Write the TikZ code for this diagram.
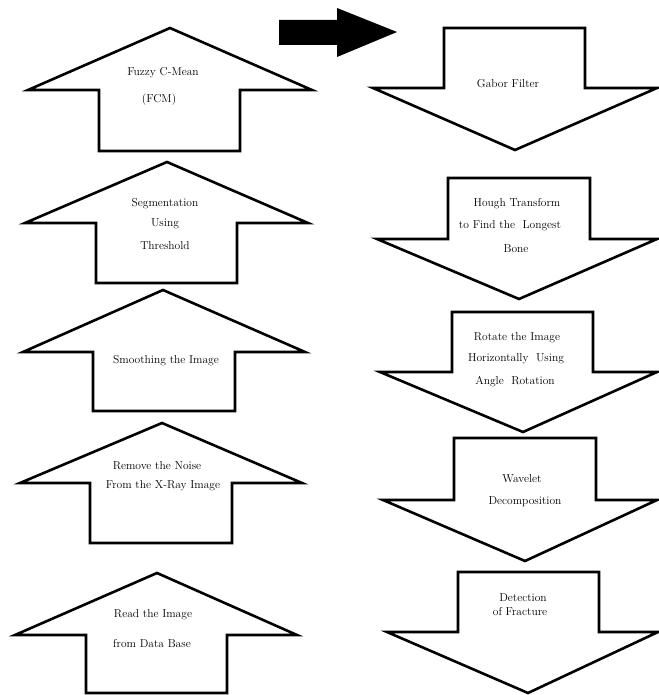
\documentclass[tikz,border=0pt]{standalone}
\begin{document}
\begin{tikzpicture}[x=1pt,y=-1pt,
  blockarrow/.style={draw=black,line width=2.6pt,fill=white,line join=miter},
  lbl/.style={font=\fontsize{11.5}{13}\selectfont,inner sep=0pt,anchor=center}]
\useasboundingbox (0,0) rectangle (658,695);

% ---- left column: upward block arrows ----
\draw[blockarrow] (170,28) -- (312,90) -- (240,90) -- (240,151) -- (99,151) -- (99,90) -- (28,90) -- cycle;
\draw[blockarrow] (167,162) -- (308,223) -- (237,223) -- (237,283) -- (96,283) -- (96,223) -- (25,223) -- cycle;
\draw[blockarrow] (163,290) -- (305,352) -- (235,352) -- (235,411) -- (93,411) -- (93,352) -- (23,352) -- cycle;
\draw[blockarrow] (162,423) -- (302,483) -- (232,483) -- (232,543) -- (90,543) -- (90,483) -- (20,483) -- cycle;
\draw[blockarrow] (157,573) -- (297,635) -- (227,635) -- (227,693) -- (86,693) -- (86,635) -- (15,635) -- cycle;

% ---- right column: downward block arrows ----
\draw[blockarrow] (444,28) -- (585,28) -- (585,88) -- (657,88) -- (515,150) -- (373,88) -- (444,88) -- cycle;
\draw[blockarrow] (448,178) -- (590,178) -- (590,239) -- (657,239) -- (519,299) -- (377,239) -- (448,239) -- cycle;
\draw[blockarrow] (452,312) -- (593,312) -- (593,372) -- (657,372) -- (523,432) -- (380,372) -- (452,372) -- cycle;
\draw[blockarrow] (454,438) -- (596,438) -- (596,500) -- (657,500) -- (525,561) -- (383,500) -- (454,500) -- cycle;
\draw[blockarrow] (458,572) -- (599,572) -- (599,632) -- (658,632) -- (528,693) -- (387,632) -- (458,632) -- cycle;

% ---- solid arrow linking the two columns ----
\fill[black] (279,20) -- (337,20) -- (337,8) -- (397,32) -- (337,57) -- (337,45) -- (279,45) -- cycle;

% ---- labels, left column ----
\node[lbl] (fcmA) at (163,73) {Fuzzy C-Mean};
\node[lbl] (fcmB) at (159,100) {(FCM)};
\node[lbl] (segA) at (165,204) {Segmentation};
\node[lbl] (segB) at (165,224) {Using};
\node[lbl] (segC) at (165,246) {Threshold};
\node[lbl] (smooth) at (166,361) {Smoothing the Image};
\node[lbl] (noiseA) at (157,466) {Remove the Noise};
\node[lbl] (noiseB) at (163,486) {From the X-Ray Image};
\node[lbl] (readA) at (153,615) {Read the Image};
\node[lbl] (readB) at (152,644) {from Data Base};

% ---- labels, right column ----
\node[lbl] (gabor) at (508,84) {Gabor Filter};
\node[lbl] (houghA) at (517,204) {Hough Transform};
\node[lbl] (houghB) at (510,226) {to Find the\ \ Longest};
\node[lbl] (houghC) at (516,249) {Bone};
\node[lbl] (rotA) at (517,338) {Rotate the Image};
\node[lbl] (rotB) at (516,359) {Horizontally\ \ Using};
\node[lbl] (rotC) at (515,382) {Angle\ \ Rotation};
\node[lbl] (wavA) at (522,479) {Wavelet};
\node[lbl] (wavB) at (525,502) {Decomposition};
\node[lbl] (detA) at (523,598) {Detection};
\node[lbl] (detB) at (520,612) {of Fracture};
\end{tikzpicture}
\end{document}
